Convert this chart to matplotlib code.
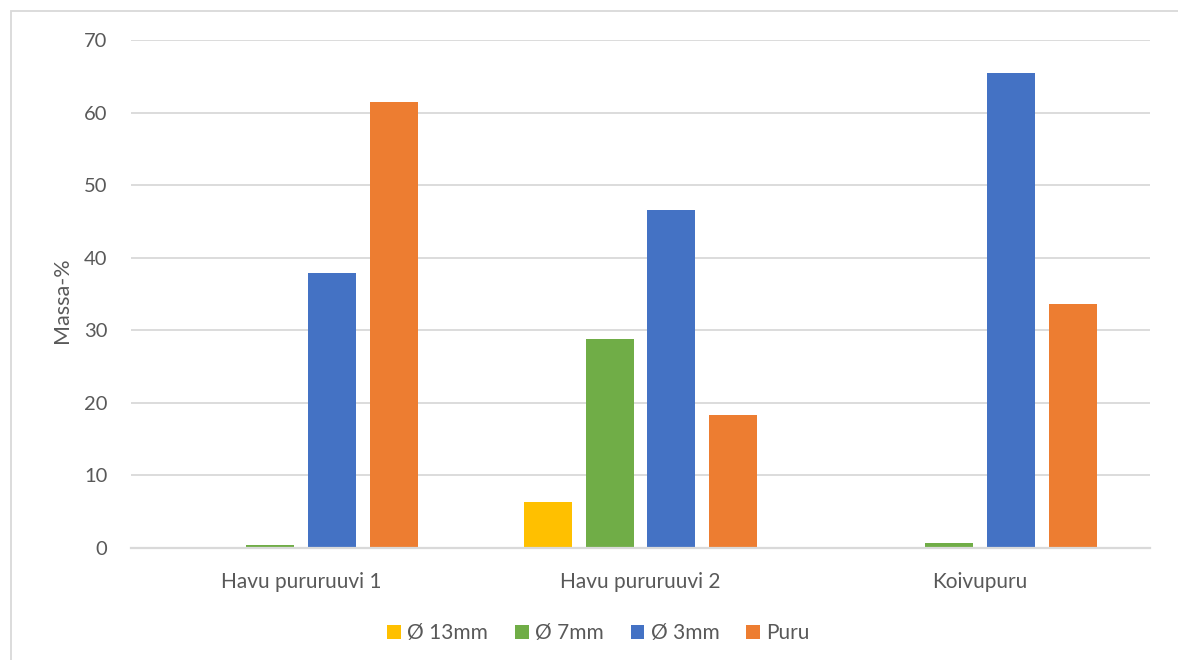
import matplotlib
matplotlib.use("Agg")
from matplotlib import pyplot as plt
from matplotlib.patches import Rectangle
import numpy as np

categories = ["Havu pururuuvi 1", "Havu pururuuvi 2", "Koivupuru"]
series_names = ["Ø 13mm", "Ø 7mm", "Ø 3mm", "Puru"]
d13 = [0.1, 6.3, 0.0]
d7 = [0.4, 28.8, 0.7]
d3 = [37.9, 46.6, 65.5]
puru = [61.5, 18.3, 33.6]
colors = ["#FFC000", "#70AD47", "#4472C4", "#ED7D31"]

plt.rcParams['font.family'] = ['Lato', 'DejaVu Sans']
txt = "#595959"
grid = "#D9D9D9"

fig = plt.figure(figsize=(11.78, 6.6), dpi=100)
ax = fig.add_axes([131/1178, 1 - 548/660, 1019/1178, 508/660])

# chart area frame
fig.patches.append(Rectangle((11/1178, -0.05), 1.2, 1 - 11/660 + 0.05,
                             transform=fig.transFigure, fill=False,
                             edgecolor=grid, linewidth=1.3))

x = np.arange(len(categories))
step = 0.182
width = 0.141
for i, (vals, name) in enumerate(zip([d13, d7, d3, puru], series_names)):
    ax.bar(x + (i - 1.5) * step, vals, width, color=colors[i], label=name, zorder=3)

ax.set_xlim(-0.5, 2.5)
ax.set_ylim(0, 70)
ax.set_yticks(np.arange(0, 71, 10))
ax.yaxis.grid(True, color=grid, linewidth=1.3, zorder=0)
for s in ["top", "right", "left"]:
    ax.spines[s].set_visible(False)
ax.spines["bottom"].set_color(grid)
ax.spines["bottom"].set_linewidth(1.6)
ax.spines["bottom"].set_zorder(4)
ax.tick_params(axis="x", length=0, labelsize=15, colors=txt, pad=17)
ax.tick_params(axis="y", length=0, labelsize=14.5, colors=txt, pad=17)
ax.set_xticks(x)
ax.set_xticklabels(categories)
fig.text(62/1178, 1 - 300/660, "Massa-%", rotation=90, ha="center", va="center",
         fontsize=15.5, color=txt)

leg = fig.legend(loc="center", bbox_to_anchor=(0.508, 1 - 633/660), ncol=4,
                 frameon=False, fontsize=15, handlelength=0.65, handleheight=0.65,
                 handletextpad=0.3, columnspacing=1.3)
for t in leg.get_texts():
    t.set_color(txt)

plt.savefig("out.png", dpi=100)
